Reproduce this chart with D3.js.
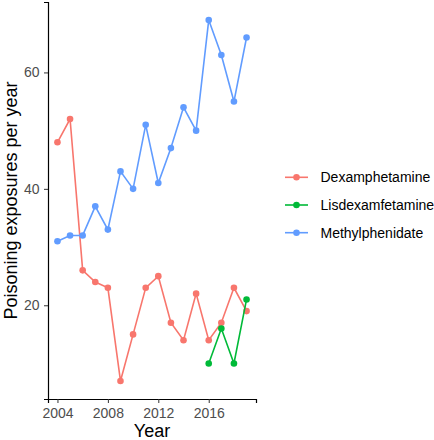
<!DOCTYPE html>
<html>
<head>
<meta charset="utf-8">
<script src="https://cdn.jsdelivr.net/npm/d3@7"></script>
<style>
  body { margin: 0; background: #fff; }
  svg text { font-family: "Liberation Sans", Arial, sans-serif; }
</style>
</head>
<body>
<div id="chart"></div>
<script>
// data
var years = [2004, 2005, 2006, 2007, 2008, 2009, 2010, 2011, 2012, 2013, 2014, 2015, 2016, 2017, 2018, 2019];
var dexamphetamine = [48, 52, 26, 24, 23, 7, 15, 23, 25, 17, 14, 22, 14, 17, 23, 19];
var lisdexYears = [2016, 2017, 2018, 2019];
var lisdexamfetamine = [10, 16, 10, 21];
var methylphenidate = [31, 32, 32, 37, 33, 43, 40, 51, 41, 47, 54, 50, 69, 63, 55, 66];
var seriesNames = ["Dexamphetamine", "Lisdexamfetamine", "Methylphenidate"];
var seriesColors = ["#F8766D", "#00BA38", "#619CFF"];
var xTicks = [2004, 2008, 2012, 2016];
var yTicks = [20, 40, 60];

var W = 434, H = 440;
var margin = {top: 2, right: 178, bottom: 41, left: 48};
var width = W - margin.left - margin.right,
    height = H - margin.top - margin.bottom;

var svg = d3.select("#chart").append("svg")
    .attr("width", W)
    .attr("height", H);

var g = svg.append("g")
    .attr("transform", "translate(" + margin.left + "," + margin.top + ")");

var series = [
    {name: seriesNames[0], color: seriesColors[0], pts: years.map(function(y, i){ return {x: y, v: dexamphetamine[i]}; })},
    {name: seriesNames[1], color: seriesColors[1], pts: lisdexYears.map(function(y, i){ return {x: y, v: lisdexamfetamine[i]}; })},
    {name: seriesNames[2], color: seriesColors[2], pts: years.map(function(y, i){ return {x: y, v: methylphenidate[i]}; })}
];

// ggplot style 5% expansion
var allVals = dexamphetamine.concat(lisdexamfetamine, methylphenidate);
var yMin = d3.min(allVals), yMax = d3.max(allVals), yPad = (yMax - yMin) * 0.05;
var xMin = d3.min(years), xMax = d3.max(years), xPad = (xMax - xMin) * 0.05;

var x = d3.scaleLinear().domain([xMin - xPad, xMax + xPad]).range([0, width]);
var y = d3.scaleLinear().domain([yMin - yPad, yMax + yPad]).range([height, 0]);

var line = d3.line()
    .x(function(d){ return x(d.x); })
    .y(function(d){ return y(d.v); });

series.forEach(function(s){
    g.append("path")
        .datum(s.pts)
        .attr("fill", "none")
        .attr("stroke", s.color)
        .attr("stroke-width", 1.6)
        .attr("d", line);
    g.append("g")
        .selectAll("circle")
        .data(s.pts).enter()
        .append("circle")
        .attr("cx", function(d){ return x(d.x); })
        .attr("cy", function(d){ return y(d.v); })
        .attr("r", 3.3)
        .attr("fill", s.color);
});

// axes
var xAxis = g.append("g")
    .attr("transform", "translate(0," + height + ")")
    .call(d3.axisBottom(x).tickValues(xTicks).tickFormat(d3.format("d")).tickSizeOuter(0).tickSize(4).tickPadding(5));
var yAxis = g.append("g")
    .call(d3.axisLeft(y).tickValues(yTicks).tickSizeOuter(0).tickSize(4).tickPadding(4.5));

[xAxis, yAxis].forEach(function(a){
    a.select(".domain").attr("stroke", "#000").attr("stroke-width", 1.2);
    a.selectAll(".tick line").attr("stroke", "#333").attr("stroke-width", 1);
    a.selectAll(".tick text").attr("fill", "#4D4D4D").style("font-size", "14px");
});

// axis titles
svg.append("text")
    .attr("x", margin.left + width / 2)
    .attr("y", 437)
    .attr("text-anchor", "middle")
    .style("font-size", "18px")
    .attr("fill", "#000")
    .text("Year");

svg.append("text")
    .attr("transform", "translate(17," + (margin.top + height / 2) + ") rotate(-90)")
    .attr("text-anchor", "middle")
    .style("font-size", "18px")
    .attr("fill", "#000")
    .text("Poisoning exposures per year");

// legend
var legend = svg.append("g")
    .attr("transform", "translate(285,177.3)");
var rows = legend.selectAll("g")
    .data(series).enter()
    .append("g")
    .attr("transform", function(d, i){ return "translate(0," + (i * 27.7) + ")"; });
rows.append("line")
    .attr("x1", 0).attr("x2", 23)
    .attr("y1", 0).attr("y2", 0)
    .attr("stroke", function(d){ return d.color; })
    .attr("stroke-width", 1.6);
rows.append("circle")
    .attr("cx", 11.5).attr("cy", 0).attr("r", 3.3)
    .attr("fill", function(d){ return d.color; });
rows.append("text")
    .attr("x", 35.5)
    .attr("y", 0)
    .attr("dy", "0.35em")
    .style("font-size", "14px")
    .attr("fill", "#000")
    .text(function(d){ return d.name; });
</script>
</body>
</html>
